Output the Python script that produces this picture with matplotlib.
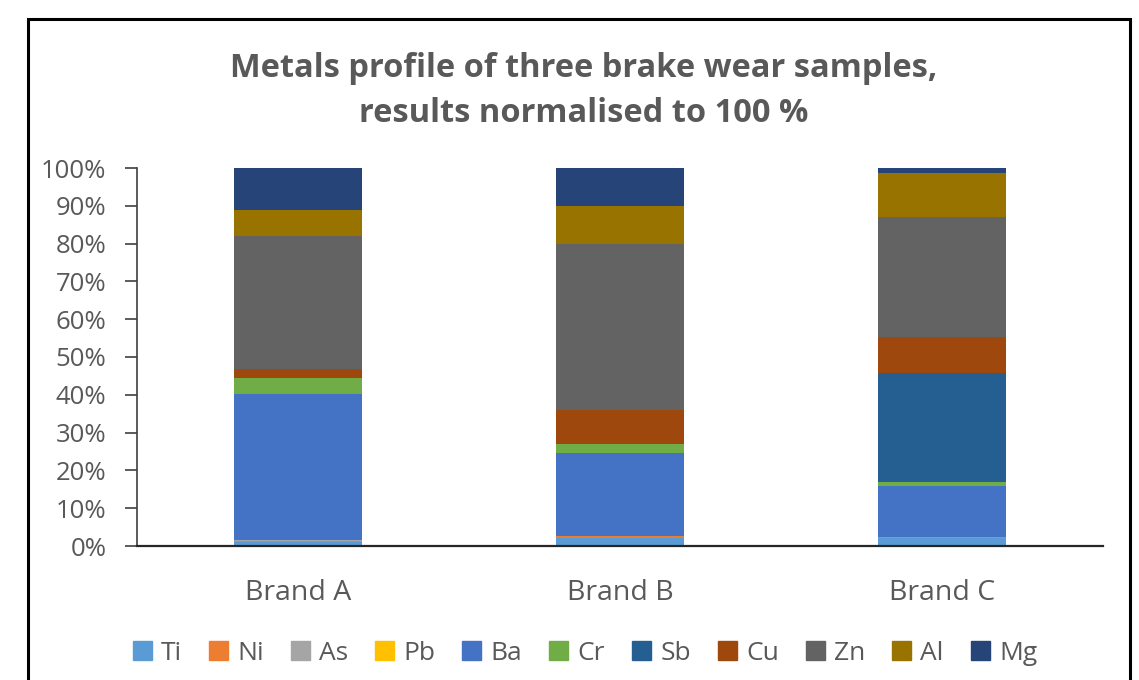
import matplotlib
matplotlib.use("Agg")
import matplotlib.pyplot as plt
import matplotlib.patches as mpatches
import numpy as np

brands = ["Brand A", "Brand B", "Brand C"]
metals = ["Ti", "Ni", "As", "Pb", "Ba", "Cr", "Sb", "Cu", "Zn", "Al", "Mg"]
ti = [1.0, 2.2, 2.0]
ni = [0.4, 0.4, 0.4]
as_ = [0.1, 0.0, 0.0]
pb = [0.1, 0.0, 0.0]
ba = [38.6, 21.9, 13.6]
cr = [4.3, 2.4, 0.9]
sb = [0.0, 0.0, 28.8]
cu = [2.3, 9.1, 9.5]
zn = [35.2, 44.0, 31.9]
al = [7.0, 10.0, 11.7]
mg = [11.0, 10.0, 1.2]
colors = ["#5B9BD5", "#ED7D31", "#A5A5A5", "#FFC000", "#4472C4", "#70AD47",
          "#255E91", "#9E480E", "#636363", "#997300", "#264478"]
yticks = [0, 10, 20, 30, 40, 50, 60, 70, 80, 90, 100]

series = [ti, ni, as_, pb, ba, cr, sb, cu, zn, al, mg]
data = np.array(series, dtype=float)
data = data / data.sum(axis=0) * 100.0

font = "Open Sans"
txt = "#595959"

fig = plt.figure(figsize=(11.39, 6.80), dpi=100)
W, H = 1139, 680
ax = fig.add_axes([137 / W, 1 - 546 / H, (1103 - 137) / W, (546 - 168) / H])

x = np.arange(len(brands))
bottom = np.zeros(len(brands))
for name, vals, c in zip(metals, data, colors):
    ax.bar(x, vals, 0.4, bottom=bottom, color=c, label=name, linewidth=0)
    bottom += vals

ax.set_xlim(-0.5, 2.5)
ax.set_ylim(0, 100)
ax.set_yticks(yticks)
ax.set_yticklabels([f"{v}%" for v in yticks], fontsize=18.5, color=txt, family=font)
ax.set_xticks(x)
ax.set_xticklabels(brands, fontsize=20.5, color=txt, family=font)
ax.tick_params(axis="x", length=0, pad=24)
ax.tick_params(axis="y", length=9, width=1.2, color="#404040", pad=13, direction="out")
for s in ["top", "right"]:
    ax.spines[s].set_visible(False)
ax.spines["left"].set_color("#404040")
ax.spines["left"].set_linewidth(1.2)
ax.spines["bottom"].set_color("#262626")
ax.spines["bottom"].set_linewidth(1.6)

fig.text(584 / W, 1 - 91 / H,
         "Metals profile of three brake wear samples,\nresults normalised to 100 %",
         ha="center", va="center", fontsize=23.5, fontweight="bold", color=txt,
         family=font, linespacing=1.45)

leg = fig.legend(handles=[mpatches.Patch(color=c) for c in colors], labels=metals,
                 loc="center", bbox_to_anchor=(585 / W, 1 - 653 / H), ncol=11,
                 frameon=False, handlelength=0.72, handleheight=0.72,
                 handletextpad=0.35, columnspacing=1.02,
                 prop={"family": font, "size": 19})
for t in leg.get_texts():
    t.set_color(txt)

rect = mpatches.Rectangle((28 / W, -0.1), (1130 - 28) / W, 1.1 - 19 / H,
                          transform=fig.transFigure, fill=False,
                          edgecolor="black", linewidth=2.2)
fig.patches.append(rect)

fig.savefig("out.png", dpi=100)
